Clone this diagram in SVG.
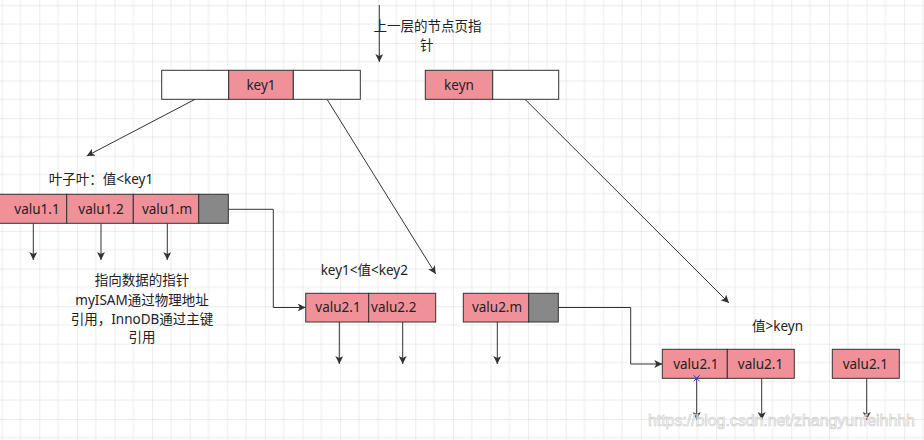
<svg xmlns="http://www.w3.org/2000/svg" width="924" height="440" viewBox="0 0 924 440">
<defs>
<pattern id="grid" patternUnits="userSpaceOnUse" x="1.7" y="5.3" width="37.6" height="37.6">
<path d="M18.8,0 V37.6 M0,18.8 H37.6" stroke="#ececec" stroke-width="1" fill="none"/>
<path d="M0,0 V37.6 M0,0 H37.6" stroke="#d9d9d9" stroke-width="1" fill="none"/>
</pattern>
<marker id="arr" markerUnits="userSpaceOnUse" markerWidth="10" markerHeight="10" refX="8" refY="4" orient="auto">
<path d="M0,0 L8,4 L0,8 L2,4 Z" fill="#333"/>
</marker>
</defs>
<style>
.pk{fill:#f0919a;stroke:#333;stroke-width:1}
.wh{fill:#fff;stroke:#333;stroke-width:1}
.gr{fill:#888;stroke:#333;stroke-width:1}
.t{font-family:"Noto Sans","Noto Sans CJK SC",sans-serif;font-size:13.5px;fill:#222;text-anchor:middle}
.c{fill:none;stroke:#333;stroke-width:1}
.ca{fill:none;stroke:#333;stroke-width:1;marker-end:url(#arr)}
</style>
<rect width="924" height="440" fill="#fff"/>
<rect width="924" height="440" fill="url(#grid)"/>

<g id="connectors">
<line class="ca" x1="379.3" y1="5" x2="379.3" y2="62"/>
<line class="ca" x1="195" y1="99.3" x2="86.7" y2="156"/>
<line class="ca" x1="327" y1="99.3" x2="435.7" y2="274"/>
<line class="ca" x1="525" y1="99.3" x2="729" y2="303"/>
<line class="ca" x1="33.3" y1="223.3" x2="33.3" y2="260"/>
<line class="ca" x1="101" y1="223.3" x2="101" y2="260"/>
<line class="ca" x1="167.3" y1="223.3" x2="167.3" y2="260"/>
<polyline class="ca" points="228.3,209.3 273.3,209.3 273.3,307.5 305.7,307.5"/>
<line class="ca" x1="339.3" y1="322" x2="339.3" y2="364"/>
<line class="ca" x1="402.7" y1="322" x2="402.7" y2="364"/>
<line class="ca" x1="497.3" y1="322" x2="497.3" y2="364"/>
<polyline class="ca" points="558.3,307.5 630.7,307.5 630.7,364 662.3,364"/>
<line class="ca" x1="696.7" y1="378.3" x2="696.7" y2="420"/>
<line class="ca" x1="761.7" y1="378.3" x2="761.7" y2="420"/>
<line class="ca" x1="866.7" y1="378.3" x2="866.7" y2="420"/>
</g>

<g id="label-top">
<text class="t" x="427.5" y="30.5">上一层的节点页指</text>
<text class="t" x="426.7" y="49.5">针</text>
</g>

<g id="node-top1">
<rect class="wh" x="161.7" y="70.3" width="67" height="29"/>
<rect class="pk" x="228.7" y="70.3" width="64.6" height="29"/>
<rect class="wh" x="293.3" y="70.3" width="67" height="29"/>
<text class="t" x="261" y="89.5">key1</text>
</g>

<g id="node-topn">
<rect class="pk" x="425.3" y="70.3" width="67.4" height="29"/>
<rect class="wh" x="492.7" y="70.3" width="66" height="29"/>
<text class="t" x="459" y="89.5">keyn</text>
</g>

<g id="label-leaf1">
<text class="t" x="101" y="183.5">叶子叶：值&lt;key1</text>
</g>

<g id="node-leaf1">
<rect class="pk" x="-2" y="194.3" width="68.7" height="29"/>
<rect class="pk" x="66.7" y="194.3" width="66.6" height="29"/>
<rect class="pk" x="133.3" y="194.3" width="65.4" height="29"/>
<rect class="gr" x="198.7" y="194.3" width="29.6" height="29"/>
<text class="t" x="37" y="213.5">valu1.1</text>
<text class="t" x="101" y="213.5">valu1.2</text>
<text class="t" x="167" y="213.5">valu1.m</text>
</g>

<g id="label-pointer">
<text class="t" x="142" y="285.2">指向数据的指针</text>
<text class="t" x="142" y="304.5">myISAM通过物理地址</text>
<text class="t" x="142" y="323.5">引用，InnoDB通过主键</text>
<text class="t" x="142" y="341.8">引用</text>
</g>

<g id="label-leaf2">
<text class="t" x="364.3" y="274.5">key1&lt;值&lt;key2</text>
</g>

<g id="node-leaf2a">
<rect class="pk" x="305.7" y="293.3" width="63" height="28.7"/>
<rect class="pk" x="368.7" y="293.3" width="67" height="28.7"/>
<text class="t" x="338" y="312">valu2.1</text>
<text class="t" x="393.7" y="312">valu2.2</text>
</g>

<g id="node-leaf2b">
<rect class="pk" x="463.3" y="293.3" width="65.4" height="28.7"/>
<rect class="gr" x="528.7" y="293.3" width="29.6" height="28.7"/>
<text class="t" x="497" y="312">valu2.m</text>
</g>

<g id="label-leaf3">
<text class="t" x="777.5" y="330.5">值&gt;keyn</text>
</g>

<g id="node-leaf3a">
<rect class="pk" x="662.3" y="349.3" width="65" height="29"/>
<rect class="pk" x="727.3" y="349.3" width="67" height="29"/>
<text class="t" x="695.8" y="368.5">valu2.1</text>
<text class="t" x="760.5" y="368.5">valu2.1</text>
</g>

<g id="node-leaf3b">
<rect class="pk" x="832.3" y="349.3" width="67" height="29"/>
<text class="t" x="865.3" y="368.5">valu2.1</text>
</g>

<path d="M693.7,375.3 L699.7,381.3 M699.7,375.3 L693.7,381.3" stroke="#2233dd" stroke-width="1" fill="none"/>

<text x="648" y="426" font-family="Liberation Sans, Arial, sans-serif" font-size="16" fill="#ffffff" fill-opacity="0.85" stroke="#c8c8c8" stroke-width="0.6" textLength="267">https://blog.csdn.net/zhangyunfeihhhh</text>
</svg>
